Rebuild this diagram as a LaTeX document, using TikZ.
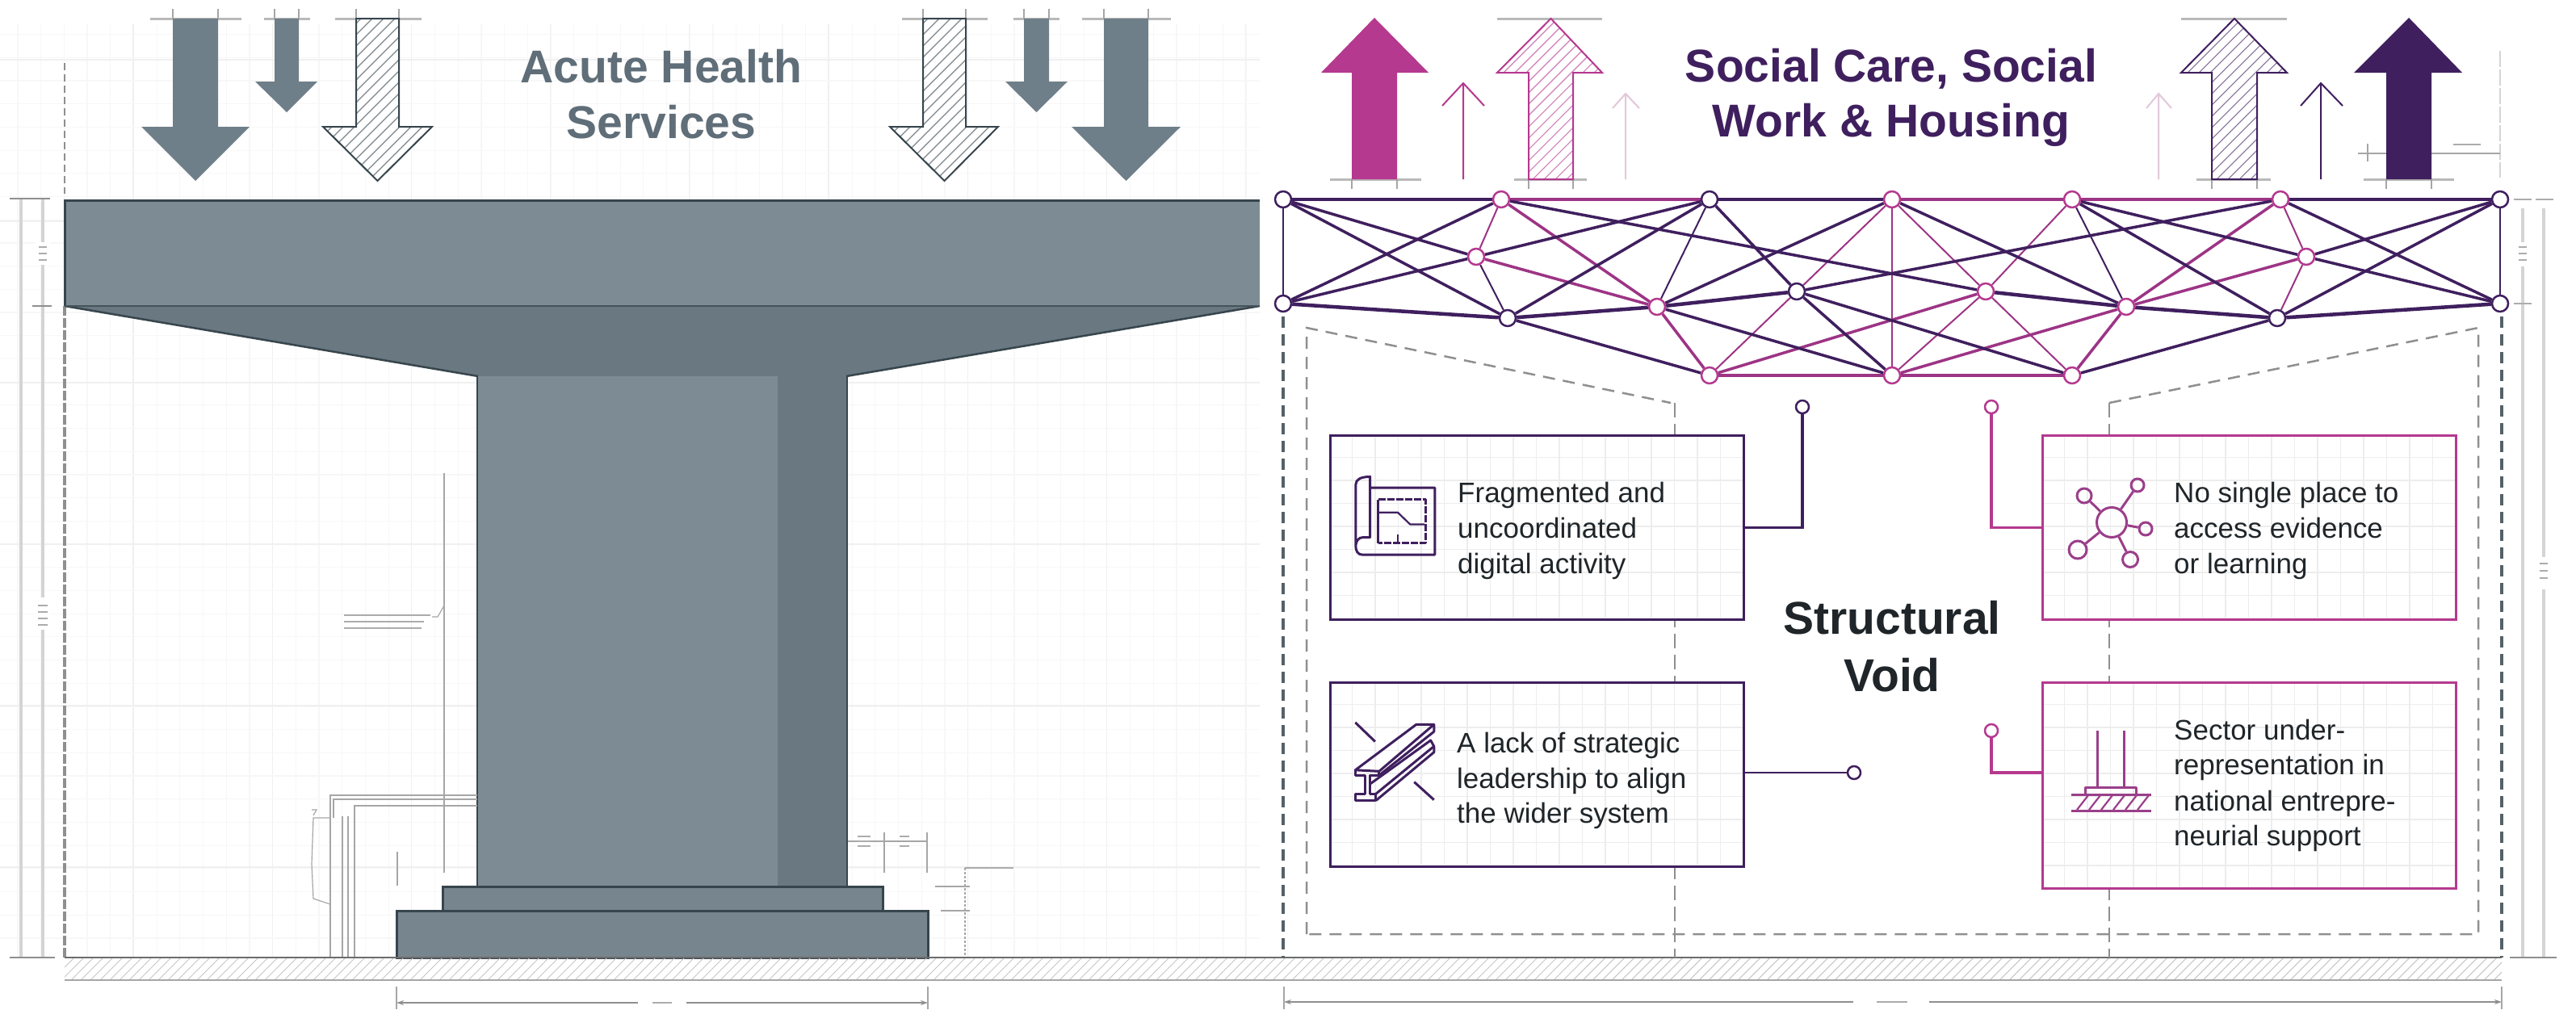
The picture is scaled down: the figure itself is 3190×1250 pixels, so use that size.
\documentclass[tikz,border=0pt]{standalone}
\usepackage{fontspec}
\setmainfont{Liberation Sans}
\usetikzlibrary{arrows.meta,calc}
\definecolor{slateF}{HTML}{7D8B94}
\definecolor{slateA}{HTML}{6F7F89}
\definecolor{slateD}{HTML}{6A7881}
\definecolor{slateE}{HTML}{37454D}
\definecolor{slateT}{HTML}{5F6E78}
\definecolor{plum}{HTML}{3F1F5E}
\definecolor{magen}{HTML}{B5398F}
\definecolor{magenL}{HTML}{E2C8DA}
\definecolor{iconM}{HTML}{9A3F8A}
\definecolor{inkT}{HTML}{1F2529}
\definecolor{gridA}{HTML}{F7F7F7}
\definecolor{gridB}{HTML}{F0F0F0}
\definecolor{cardG}{HTML}{EDEDED}
\definecolor{dimL}{HTML}{D4D4D4}
\definecolor{dimD}{HTML}{8F8F8F}
\pgfdeclarelayer{bg}\pgfdeclarelayer{edges}
\pgfsetlayers{bg,edges,main}
\tikzset{
 tn/.style={circle,draw=plum,fill=white,line width=2.5pt,minimum size=20pt,inner sep=0pt},
 tm/.style={tn,draw=magen},
 pin/.style={circle,fill=white,line width=2.5pt,minimum size=16pt,inner sep=0pt},
 edgeDK/.style={plum,line width=4.5pt},
 edgeDM/.style={plum,line width=3.5pt},
 edgeDT/.style={plum,line width=2pt},
 edgeMK/.style={magen!80!plum,line width=4.5pt},
 edgeMM/.style={magen!80!plum,line width=3.5pt},
 edgeMT/.style={magen!80!plum,line width=2pt},
 cardbox/.style={draw,line width=3pt,inner sep=0pt,anchor=north west},
 cardtext/.style={anchor=base west,inner sep=0pt,text=inkT,font=\fontsize{35}{44}\selectfont},
 titlebig/.style={anchor=base,inner sep=0pt,font=\fontsize{57}{60}\selectfont\bfseries},
 dimthick/.style={dimL,line width=3.5pt},
 dimthin/.style={dimD,line width=1.2pt},
 barst/.style={gray!55,line width=3pt},
 gline/.style={gray!70,line width=1.2pt},
 blurtxt/.style={gray!65,line width=2.2pt},
 iconD/.style={plum,line width=3pt,line join=round},
 iconMg/.style={iconM,line width=3pt,line join=round},
}
\newcommand\solidarrow[8]{\fill[#8] (#1,#5)--(#2,#5)--(#2,#6)--(#4,#6)--({(#1+#2)/2},#7)--(#3,#6)--(#1,#6)--cycle;}
\newcommand\hatcharrow[8]{%
 \fill[white] (#1,#5)--(#2,#5)--(#2,#6)--(#4,#6)--({(#1+#2)/2},#7)--(#3,#6)--(#1,#6)--cycle;
 \begin{scope}
 \clip (#1,#5)--(#2,#5)--(#2,#6)--(#4,#6)--({(#1+#2)/2},#7)--(#3,#6)--(#1,#6)--cycle;
 \foreach \k in {0,...,28}{\draw[#8!65,line width=1.1pt] ({#3+\k*14},0)--({#3+\k*14-240},240);}
 \end{scope}
 \draw[#8,line width=2pt,line join=miter] (#1,#5)--(#2,#5)--(#2,#6)--(#4,#6)--({(#1+#2)/2},#7)--(#3,#6)--(#1,#6)--cycle;}
\newcommand\cardgrid[4]{%
 \fill[white] (#1,#2) rectangle (#3,#4);
 \begin{scope}
 \clip (#1,#2) rectangle (#3,#4);
 \foreach \k in {1,...,18}{\draw[cardG,line width=1.2pt] ({#1+\k*28.5},#2)--({#1+\k*28.5},#4);}
 \foreach \k in {1,...,9}{\draw[cardG,line width=1.2pt] (#1,{#2+\k*28.5})--(#3,{#2+\k*28.5});}
 \end{scope}}
\begin{document}
\begin{tikzpicture}[x=1pt,y=-1pt]
\useasboundingbox (0,0) rectangle (3190,1250);
\begin{pgfonlayer}{bg}
\fill[white] (0,0) rectangle (3190,1250);
\end{pgfonlayer}
% faint drawing-sheet grid
\foreach \i in {0,...,53}{\draw[gridA,line width=1.2pt] ({21.9+\i*28.7},30)--({21.9+\i*28.7},1186);}
\foreach \i in {0,...,8}{\draw[gridB,line width=1.2pt] ({165+\i*172.2},30)--({165+\i*172.2},1186);}
\foreach \j in {-22,...,17}{\draw[gridA,line width=1.2pt] (0,{674+\j*28.7})--(1560,{674+\j*28.7});}
\foreach \j in {-3,...,2}{\draw[gridB,line width=1.2pt] (0,{674+\j*200})--(1560,{674+\j*200});}
% datum lines and dimensions, left
\draw[dimD,line width=1.5pt,dash pattern=on 9pt off 5pt] (80,78)--(80,240);
\draw[dimD,line width=3.5pt,dash pattern=on 12pt off 3pt] (80,379)--(80,1186);
\draw[dimthick] (26,246)--(26,1186);
\draw[dimthick] (53,246)--(53,1186);
\draw[dimthin] (12,246)--(40,246) (40,246)--(62,246) (40,379)--(64,379) (12,1186)--(40,1186) (40,1186)--(68,1186);
\fill[white] (44,300) rectangle (62,328);
\fill[white] (44,740) rectangle (62,780);
\foreach \y in {306,314,322}{\draw[blurtxt] (48,\y)--(58,\y);}
\foreach \y in {750,758,766,774}{\draw[blurtxt] (47,\y)--(59,\y);}
% left arrows
\foreach \a/\b in {186/299,327/384,415/522,1117/1223,1255/1312,1340/1450}{\draw[barst] (\a,23)--(\b,23);}
\foreach \a in {214,270,340,370,441,494,1143,1196,1268,1299,1367,1422}{\draw[gline] (\a,11)--(\a,23);}
\solidarrow{214}{270}{175}{309}{23}{157}{224}{slateA}
\solidarrow{340}{370}{316}{393}{23}{101}{139}{slateA}
\hatcharrow{441}{494}{400}{535}{23}{157}{224}{slateE}
\hatcharrow{1143}{1196}{1102}{1236}{23}{157}{224}{slateE}
\solidarrow{1268}{1299}{1245}{1322}{23}{101}{139}{slateA}
\solidarrow{1367}{1422}{1327}{1462}{23}{157}{224}{slateA}
\node[titlebig,text=slateT] (tA) at (819,102) {Acute Health};
\node[titlebig,text=slateT] (tB) at (819,171) {Services};
% pier
\fill[slateD] (80,379)--(592,466)--(1048,466)--(1560,379)--cycle;
\draw[slateE,line width=2.5pt] (80,379)--(592,466) (1048,466)--(1560,379);
\fill[slateF] (591,466) rectangle (1049,1098);
\fill[slateD] (963,466) rectangle (1049,1098);
\draw[slateE,line width=2.5pt] (591,466)--(591,1098) (1049,466)--(1049,1098);
\fill[slateF] (80,248) rectangle (1560,379);
\draw[slateE,line width=3pt] (80,379)--(80,248)--(1560,248);
\draw[slateE!80!slateF,line width=2.5pt] (80,379)--(1560,379);
\draw[slateE,line width=3pt,fill=slateF!92!slateE] (548,1098) rectangle (1093,1128);
\draw[slateE,line width=3pt,fill=slateF!92!slateE] (491,1128) rectangle (1149,1186);
% ground
\begin{scope}
\clip (80,1186) rectangle (3098,1214);
\foreach \k in {0,...,255}{\draw[gray!45,line width=1pt] ({80+\k*12},1186)--({80+\k*12-28},1214);}
\end{scope}
\draw[gray!85!black,line width=2.5pt] (80,1186)--(3098,1186);
\draw[gray!70,line width=2pt] (80,1214)--(3098,1214);
% detail lines left of the column
\draw[gline] (409,1185)--(409,985)--(591,985);
\draw[gline] (413,1013)--(413,990)--(591,990);
\draw[gline] (439,1185)--(439,998)--(591,998);
\draw[gline] (424,1011)--(424,1185) (431,1011)--(431,1185);
\draw[gline] (409,1013)--(388,1013)--(386,1070)--(388,1113)--(409,1120);
\draw[gline] (386,1003)--(392,1003)--(388,1010);
\draw[gline] (492,1055)--(492,1097);
\draw[gline] (550,586)--(550,1081);
\draw[gline] (550,750)--(542,764)--(535,764);
\draw[blurtxt] (426,762)--(533,762);
\draw[blurtxt] (426,770)--(525,770);
\draw[blurtxt] (426,778)--(522,778);
% details right of the column
\draw[gline] (1050,1042)--(1148,1042);
\draw[gline] (1095,1031)--(1095,1081) (1148,1031)--(1148,1081);
\draw[blurtxt] (1062,1036)--(1078,1036) (1062,1042)--(1078,1042) (1062,1048)--(1078,1048);
\draw[blurtxt] (1114,1036)--(1126,1036) (1114,1048)--(1126,1048);
\draw[gline,densely dashed] (1195,1075)--(1195,1183);
\draw[gline] (1158,1098)--(1201,1098) (1165,1128)--(1201,1128) (1195,1075)--(1201,1075);
\draw[blurtxt,line width=1.8pt] (1201,1075)--(1255,1075);
% bottom dimensions
\draw[dimthin,{Stealth[length=9pt,width=6pt]}-{Stealth[length=9pt,width=6pt]}] (491,1242)--(1149,1242);
\fill[white] (790,1234) rectangle (850,1250);
\draw[blurtxt] (808,1242)--(832,1242);
\draw[gline] (491,1222)--(491,1250) (1149,1222)--(1149,1250);
\draw[dimthin,{Stealth[length=9pt,width=6pt]}-{Stealth[length=9pt,width=6pt]}] (1590,1241)--(3098,1241);
\fill[white] (2295,1234) rectangle (2389,1250);
\draw[blurtxt] (2324,1241)--(2362,1241);
\draw[gline] (1590,1222)--(1590,1250) (3098,1222)--(3098,1250);
% right dimensions
\draw[dimthick] (3124,258)--(3124,1186);
\draw[dimthick] (3150,258)--(3150,1186);
\draw[dimthin] (3108,1186)--(3166,1186);
\draw[blurtxt] (3113,247)--(3135,247) (3140,247)--(3162,247) (3113,376)--(3135,376);
\fill[white] (3115,300) rectangle (3133,330);
\foreach \y in {306,314,322}{\draw[blurtxt] (3119,\y)--(3129,\y);}
\fill[white] (3141,690) rectangle (3159,730);
\foreach \y in {698,707,716}{\draw[blurtxt] (3145,\y)--(3155,\y);}
\draw[dimL,line width=2.5pt,dash pattern=on 20pt off 3pt] (3096,63)--(3096,220);
\draw[gline] (2920,190)--(3096,190) (2932,178)--(2932,200);
\draw[blurtxt,line width=1.8pt] (3038,179)--(3072,179);
% right arrows
\draw[barst] (1647,222)--(1760,222);
\draw[barst] (1875,222)--(1965,222);
\draw[barst] (1854,23)--(1984,23);
\draw[barst] (2701,23)--(2832,23);
\draw[barst] (2720,222)--(2812,222);
\draw[barst] (2927,222)--(3039,222);
\foreach \a in {1674,1730,1893,1948,2739,2795,2955,3011}{\draw[gline] (\a,222)--(\a,234);}
\solidarrow{1674}{1730}{1636}{1769}{222}{90}{22}{magen}
\hatcharrow{1893}{1948}{1854}{1984}{222}{90}{23}{magen}
\hatcharrow{2739}{2795}{2701}{2832}{222}{90}{23}{plum}
\solidarrow{2955}{3011}{2915}{3049}{222}{90}{22}{plum}
\draw[magen,line width=2pt] (1786,131)--(1812,103)--(1838,131) (1812,103)--(1812,222);
\draw[plum,line width=2pt] (2849,131)--(2874,103)--(2901,131) (2874,103)--(2874,222);
\draw[magenL,line width=2pt] (1997,134)--(2013,116)--(2030,134) (2013,116)--(2013,222);
\draw[magenL,line width=2pt] (2658,134)--(2673,116)--(2689,134) (2673,116)--(2673,222);
\node[titlebig,text=plum] (tC) at (2342,101) {Social Care, Social};
\node[titlebig,text=plum] (tD) at (2342,169) {Work \& Housing};
% void frame
\draw[slateE!85,line width=3.5pt,dash pattern=on 14pt off 8pt] (1589,392)--(1589,1186);
\draw[slateE!85,line width=3.5pt,dash pattern=on 14pt off 8pt] (3098,392)--(3098,1186);
\draw[dimD,line width=2.5pt,dash pattern=on 15pt off 10pt] (1618,1157)--(1618,406)--(2069,499);
\draw[dimD,line width=2.5pt,dash pattern=on 15pt off 10pt] (2612,499)--(3069,406)--(3069,1157)--(1618,1157);
\draw[dimD,line width=1.5pt,dash pattern=on 18pt off 8pt] (2074,499)--(2074,1186);
\draw[dimD,line width=1.5pt,dash pattern=on 18pt off 8pt] (2612,499)--(2612,1186);
% truss nodes
\node[tn] (T1) at (1589,247) {};
\node[tm] (T2) at (1859,247) {};
\node[tn] (T3) at (2117,247) {};
\node[tm] (T4) at (2343,247) {};
\node[tm] (T5) at (2566,247) {};
\node[tm] (T6) at (2824,247) {};
\node[tn] (T7) at (3096,247) {};
\node[tm] (M1) at (1828,318) {};
\node[tm] (M2) at (2856,318) {};
\node[tn] (C1) at (2225,361) {};
\node[tm] (C2) at (2459,361) {};
\node[tn] (L1) at (1589,376) {};
\node[tn] (L2) at (1867,394) {};
\node[tm] (L3) at (2052,380) {};
\node[tm] (L4) at (2633,380) {};
\node[tn] (L5) at (2820,394) {};
\node[tn] (L6) at (3096,376) {};
\node[tm] (B1) at (2117,465) {};
\node[tm] (B2) at (2343,465) {};
\node[tm] (B3) at (2566,465) {};
\begin{pgfonlayer}{edges}
\foreach \a/\b in {M1/L3,T2/L3,L3/B1,L4/T6,L4/M2,L4/B3,L4/B2,C2/B1}{\draw[edgeMM] (\a)--(\b);}
\foreach \a/\b in {T2/M1,T4/C1,C1/B1,T4/B2,T4/C2,C2/B3,T5/C2,C2/B2,T6/M2,M2/L5}{\draw[edgeMT] (\a)--(\b);}
\foreach \a/\b in {T2/T3,T4/T5,T5/T6,B1/B2,B2/B3}{\draw[edgeMK] (\a)--(\b);}
\foreach \a/\b in {T1/L1,T7/L6,T3/L3,T5/L4,M1/L2}{\draw[edgeDT] (\a)--(\b);}
\foreach \a/\b in {T1/M1,T1/L2,L1/T2,L1/M1,M1/T3,L2/T3,L2/B1,L3/T4,C1/T6,C1/B3,T3/C1,C1/B2,T4/L4,T5/L5,T5/M2,L6/M2,M2/T7,T7/L5,T6/L6,L5/B3,T2/C2,L3/B2}{\draw[edgeDM] (\a)--(\b);}
\foreach \a/\b in {T1/T2,T3/T4,T6/T7,L1/L2,L2/L3,L3/C1,C2/L4,L4/L5,L5/L6}{\draw[edgeDK] (\a)--(\b);}
\end{pgfonlayer}
% cards
\cardgrid{1646}{538}{2158}{766}
\cardgrid{1646}{844}{2158}{1072}
\cardgrid{2528}{538}{3040}{766}
\cardgrid{2528}{844}{3040}{1099}
\node[cardbox,draw=plum,minimum width=512pt,minimum height=228pt] (box1) at (1646,538) {};
\node[cardbox,draw=plum,minimum width=512pt,minimum height=228pt] (box2) at (1646,844) {};
\node[cardbox,draw=magen,minimum width=512pt,minimum height=228pt] (box3) at (2528,538) {};
\node[cardbox,draw=magen,minimum width=512pt,minimum height=255pt] (box4) at (2528,844) {};
\node[pin,draw=plum] (p1) at (2232,504) {};
\node[pin,draw=plum] (p2) at (2296,957) {};
\node[pin,draw=magen] (p3) at (2466,504) {};
\node[pin,draw=magen] (p4) at (2466,905) {};
\draw[plum,line width=3.5pt] (box1.east) -| (p1);
\draw[plum,line width=2.5pt] (box2.east |- p2) -- (p2);
\draw[magen,line width=3.5pt] (box3.west) -| (p3);
\coordinate (k4) at (2466,957);
\draw[magen,line width=3.5pt] (box4.west |- k4) -- (k4) -- (p4);
% card texts
\node[cardtext] (a1) at (1805,622) {Fragmented and};
\node[cardtext] (a2) at (1805,666) {uncoordinated};
\node[cardtext] (a3) at (1805,710) {digital activity};
\node[cardtext] (b1) at (1804,932) {A lack of strategic};
\node[cardtext] (b2) at (1804,976) {leadership to align};
\node[cardtext] (b3) at (1804,1019) {the wider system};
\node[cardtext] (c1) at (2692,622) {No single place to};
\node[cardtext] (c2) at (2692,666) {access evidence};
\node[cardtext] (c3) at (2692,710) {or learning};
\node[cardtext] (d1) at (2692,916) {Sector under-};
\node[cardtext] (d2) at (2692,959) {representation in};
\node[cardtext] (d3) at (2692,1004) {national entrepre-};
\node[cardtext] (d4) at (2692,1047) {neurial support};
\node[titlebig,text=inkT] (s1) at (2343,785) {Structural};
\node[titlebig,text=inkT] (s2) at (2343,856) {Void};
% icon: blueprint
\begin{scope}[shift={(1560,480)},xscale=.51,yscale=.491]
\draw[iconD] (268,253)--(425,253)--(425,422)--(250,422) .. controls (238,422) and (233,412) .. (233,400) -- (233,245) .. controls (233,232) and (245,225) .. (268,225) -- (268,378) -- (250,378) .. controls (240,378) and (233,388) .. (233,400);
\draw[iconD] (288,393)--(288,283);
\draw[iconD,dash pattern=on 9pt off 2pt] (288,283)--(402,283)--(402,393)--(288,393);
\draw[iconD,line width=2.2pt] (290,315)--(335,315)--(365,345)--(400,345);
\draw[iconD,line width=2.2pt] (335,370)--(335,393);
% icon: steel beam
\draw[iconD] (232,965)--(380,850)--(423,850)--(290,968)--cycle;
\draw[iconD] (232,965)--(232,978)--(255,978)--(255,1025)--(232,1025)--(232,1042)--(282,1042)--(282,1025)--(268,1025)--(268,978)--(290,978)--(290,968);
\draw[iconD] (290,978)--(423,868)--(423,850);
\draw[iconD] (268,1000)--(415,890)--(423,905)--(282,1025);
\draw[iconD] (423,905)--(423,920)--(282,1042);
\draw[iconD] (232,845)--(280,893) (375,995)--(423,1040);
\end{scope}
% icon: network
\node[circle,draw=iconM,line width=3pt,minimum size=37pt,inner sep=0pt] (nc) at (2615,647) {};
\node[circle,draw=iconM,line width=3pt,minimum size=18pt,inner sep=0pt] (n1) at (2581,614) {};
\node[circle,draw=iconM,line width=3pt,minimum size=16pt,inner sep=0pt] (n2) at (2647,601) {};
\node[circle,draw=iconM,line width=3pt,minimum size=16pt,inner sep=0pt] (n3) at (2657,655) {};
\node[circle,draw=iconM,line width=3pt,minimum size=19pt,inner sep=0pt] (n4) at (2638,693) {};
\node[circle,draw=iconM,line width=3pt,minimum size=22pt,inner sep=0pt] (n5) at (2573,681) {};
\foreach \n in {n1,n2,n3,n4,n5}{\draw[iconMg] (nc)--(\n);}
% icon: footing
\draw[iconMg] (2597,905)--(2597,975) (2630,905)--(2630,975);
\draw[iconMg] (2582,984)--(2582,975)--(2645,975)--(2645,984);
\draw[iconMg] (2565,984)--(2664,984) (2565,1004)--(2664,1004);
\foreach \k in {0,...,5}{\draw[iconMg,line width=2.2pt] ({2586+\k*15},985)--({2572+\k*15},1003);}
\end{tikzpicture}
\end{document}
